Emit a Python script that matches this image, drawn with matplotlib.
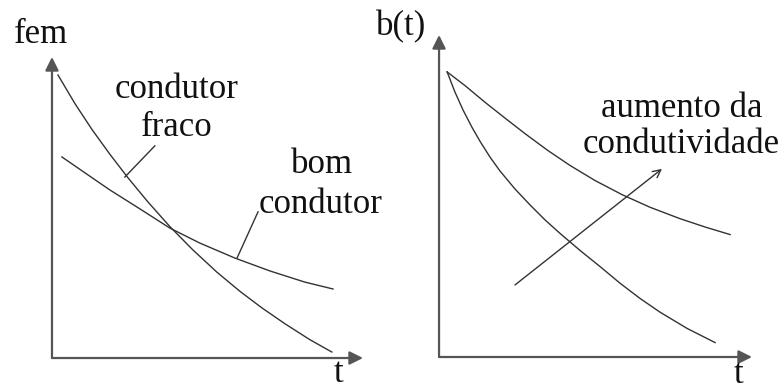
import matplotlib
matplotlib.use('Agg')
import matplotlib.pyplot as plt

plt.rcParams['font.family'] = 'serif'
plt.rcParams['font.serif'] = ['Liberation Serif', 'Times New Roman', 'DejaVu Serif']

# Dados (unidades arbitrarias)
# painel esquerdo: fem x t
fraco_t = [0.2, 0.77, 1.33, 1.93, 2.53, 3.2, 3.93, 4.7, 5.5, 6.27, 7.0, 7.77, 8.6, 9.33]
fraco_v = [9.43, 8.47, 7.62, 6.79, 6.01, 5.2, 4.38, 3.6, 2.86, 2.22, 1.67, 1.14, 0.61, 0.2]

bom_t = [0.33, 1.1, 1.93, 2.93, 3.93, 4.93, 6.1, 7.27, 8.43, 9.37]
bom_v = [6.7, 6.17, 5.6, 4.97, 4.33, 3.83, 3.33, 2.9, 2.53, 2.3]

# painel direito: b(t) x t
alta_t = [0.27, 0.87, 1.53, 2.2, 2.87, 3.6, 4.37, 5.2, 6.1, 7.03, 8.03, 8.87, 9.7]
alta_v = [9.5, 9.04, 8.49, 7.96, 7.44, 6.9, 6.38, 5.88, 5.41, 4.99, 4.61, 4.33, 4.08]

baixa_t = [0.27, 0.53, 0.8, 1.1, 1.37, 1.7, 2.03, 2.53, 3.03, 3.53, 4.03, 4.7,
           5.37, 6.03, 6.7, 7.37, 8.27, 9.2]
baixa_v = [9.5, 8.83, 8.23, 7.65, 7.18, 6.66, 6.2, 5.6, 5.07, 4.57, 4.12, 3.55,
           3.01, 2.46, 1.95, 1.49, 0.95, 0.48]

LINHA = '#333333'
EIXO = '#555555'
TXT = '#111111'
FS = 25


def eixos(ax, xmax, ymax):
    ax.set_xlim(0, xmax)
    ax.set_ylim(0, ymax)
    ax.axis('off')
    seta = dict(arrowstyle='-|>', color=EIXO, lw=1.6, mutation_scale=20,
                shrinkA=0, shrinkB=0)
    ax.annotate('', xy=(xmax, 0), xytext=(0, 0), arrowprops=seta,
                annotation_clip=False)
    ax.annotate('', xy=(0, ymax), xytext=(0, 0), arrowprops=seta,
                annotation_clip=False)


fig = plt.figure(figsize=(7.84, 3.92), dpi=100, facecolor='white')

# esquerda
ax1 = fig.add_axes([0.0663, 0.0867, 0.3967, 0.7679])
eixos(ax1, 10.37, 10.03)
ax1.plot(fraco_t, fraco_v, color=LINHA, lw=1.0, clip_on=False)
ax1.plot(bom_t, bom_v, color=LINHA, lw=1.0, clip_on=False)
ax1.plot([2.43, 3.43], [6.03, 7.07], color=LINHA, lw=1.0)
ax1.plot([6.17, 6.87], [3.33, 4.87], color=LINHA, lw=1.0)

ax1.text(-0.37, 10.5, 'fem', fontsize=FS, color=TXT, ha='center', va='baseline')
ax1.text(4.17, 8.67, 'condutor', fontsize=FS, color=TXT, ha='center', va='baseline')
ax1.text(4.17, 7.4, 'fraco', fontsize=FS, color=TXT, ha='center', va='baseline')
ax1.text(9.0, 6.17, 'bom', fontsize=FS, color=TXT, ha='center', va='baseline')
ax1.text(8.97, 4.83, 'condutor', fontsize=FS, color=TXT, ha='center', va='baseline')
ax1.text(9.57, -0.8, 't', fontsize=FS, color=TXT, ha='center', va='baseline')

# direita
ax2 = fig.add_axes([0.56, 0.0893, 0.3992, 0.8214])
eixos(ax2, 10.43, 10.73)
ax2.plot(alta_t, alta_v, color=LINHA, lw=1.0, clip_on=False)
ax2.plot(baixa_t, baixa_v, color=LINHA, lw=1.0, clip_on=False)
ax2.annotate('', xy=(7.43, 6.27), xytext=(2.53, 2.4),
             arrowprops=dict(arrowstyle='->', color=LINHA, lw=1.0,
                             mutation_scale=14, shrinkA=0, shrinkB=0))

ax2.text(-1.27, 10.73, 'b(t)', fontsize=FS, color=TXT, ha='center', va='baseline')
ax2.text(8.1, 8.0, 'aumento da', fontsize=FS, color=TXT, ha='center', va='baseline')
ax2.text(8.07, 6.8, 'condutividade', fontsize=FS, color=TXT, ha='center', va='baseline')
ax2.text(9.97, -0.87, 't', fontsize=FS, color=TXT, ha='center', va='baseline')

fig.savefig('out.png', dpi=100, facecolor='white')
